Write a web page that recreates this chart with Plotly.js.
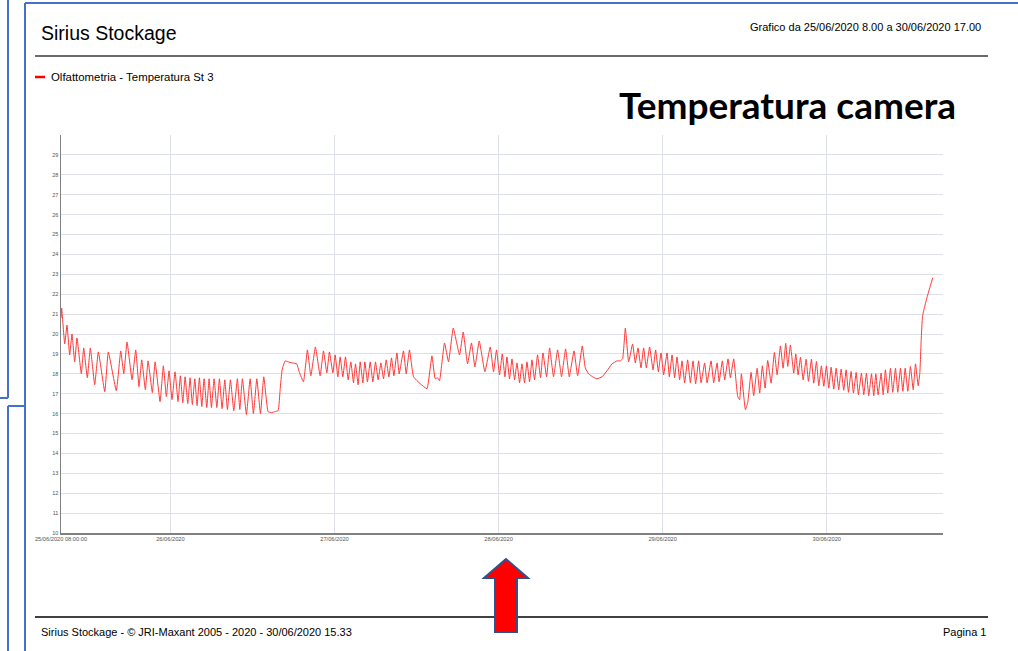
<!DOCTYPE html>
<html>
<head>
<meta charset="utf-8">
<script src="https://cdn.plot.ly/plotly-3.0.1.min.js"></script>
<style>
html,body{margin:0;padding:0;background:#fff;overflow:hidden}
#chart{width:1018px;height:651px}
</style>
</head>
<body>
<div id="chart"></div>
<script>
// ---------------- DATA ----------------
const seriesName = 'Olfattometria - Temperatura St 3';
const pageTitle = 'Sirius Stockage';
const periodText = 'Grafico da 25/06/2020 8.00 a 30/06/2020 17.00';
const bigLabel = 'Temperatura camera';
const footerLeft = 'Sirius Stockage - © JRI-Maxant 2005 - 2020 - 30/06/2020 15.33';
const footerRight = 'Pagina 1';

// hours elapsed since 25/06/2020 08:00
const hoursFromStart = [
0.00,0.10,0.54,0.88,1.27,1.61,2.00,2.34,2.97,3.32,3.85,4.29,4.93,5.46,6.40,6.92,8.09,8.74,9.18,9.66,
10.39,10.93,11.41,11.81,12.34,12.73,13.36,13.76,14.49,14.97,15.41,15.80,16.24,16.68,17.12,17.46,17.81,18.15,18.54,18.88,
19.21,19.57,19.90,20.24,20.59,20.93,21.32,21.66,22.00,22.39,22.79,23.17,23.56,23.96,24.34,24.78,25.27,25.80,26.15,26.53,
27.12,27.66,28.14,28.64,29.17,29.66,30.29,30.78,31.32,31.76,32.05,32.34,32.78,33.22,33.80,34.49,34.83,35.46,36.04,36.54,
37.21,37.90,38.39,38.88,39.26,39.76,40.10,40.49,40.83,41.22,41.61,42.00,42.39,42.78,43.07,43.46,43.76,44.15,44.44,44.82,
45.22,45.61,46.00,46.39,46.79,47.17,47.56,47.96,48.34,48.69,49.13,49.46,50.09,50.49,50.97,51.56,52.54,53.52,54.25,54.73,
55.07,55.36,56.09,56.68,57.37,58.29,58.83,59.46,60.04,60.54,61.17,62.00,62.78,63.26,63.70,64.14,64.54,64.93,65.22,65.60,
65.96,66.34,66.69,67.07,67.42,67.80,68.15,68.53,68.88,69.26,69.70,70.14,70.49,71.02,71.46,72.04,72.63,73.21,73.80,74.34,
75.03,75.56,76.24,76.68,77.17,77.75,78.39,79.13,79.86,80.59,81.32,81.80,82.14,82.54,83.02,83.60,84.00,84.39,84.83,85.21,
85.61,86.09,86.59,86.97,87.37,87.76,88.14,88.64,88.97,89.37,89.75,90.10,90.48,90.83,91.21,91.65,92.05,92.44,92.82,93.26,
93.61,94.14,94.49,95.08,95.46,95.96,96.25,96.73,97.07,97.56,97.90,98.39,98.97,99.26,99.51,100.10,100.43,100.93,101.31,101.81,
102.19,102.58,102.98,103.36,103.86,104.34,104.74,105.22,105.61,106.00,106.29,106.68,107.17,107.46,107.81,108.15,108.54,108.98,109.32,109.76,
110.09,110.49,110.83,111.22,111.56,111.95,112.29,112.64,113.02,113.37,113.75,114.10,114.48,114.83,115.17,115.56,115.90,116.30,116.63,117.07,
117.41,117.80,118.14,118.54,118.87,119.17,119.51,119.95,120.25,120.58,120.92,121.32,121.65,122.05,122.38,122.78,123.12,123.47,123.85,124.24,
124.64,124.98,125.37,125.61,125.81,126.00,126.19,126.69,127.17,127.51
];

// temperature readings (°C)
const temperature = [
20.8,21.3,19.5,20.45,18.95,20.0,18.6,19.8,18.0,19.3,17.8,19.3,17.45,19.1,17.1,19.1,17.15,19.15,18.0,19.6,
17.7,19.2,17.35,18.7,17.2,18.65,17.05,18.6,16.6,18.4,16.85,18.15,16.7,18.1,16.6,17.9,16.55,17.85,16.5,17.8,
16.45,17.75,16.4,17.8,16.35,17.75,16.3,17.75,16.3,17.75,16.3,17.75,16.25,17.7,16.2,17.7,16.15,17.75,16.2,17.75,
15.95,17.75,16.0,17.75,16.0,17.85,16.1,16.05,16.1,16.15,17.2,18.2,18.65,18.6,18.55,18.5,18.1,17.6,19.2,17.9,
19.35,17.9,19.15,18.05,19.1,18.05,18.95,17.85,18.85,17.85,18.85,17.7,18.6,17.55,18.5,17.45,18.6,17.55,18.6,17.6,
18.6,17.6,18.6,17.7,18.55,17.75,18.7,17.85,18.8,17.9,19.05,18.0,19.15,18.0,19.2,17.85,17.5,17.25,18.9,17.75,
17.8,17.65,19.55,18.6,20.3,18.95,20.1,18.5,19.55,18.35,19.65,18.1,19.35,18.1,19.2,17.95,19.0,17.85,18.85,17.75,
18.75,17.7,18.55,17.55,18.5,17.55,18.6,17.6,18.7,17.7,18.95,17.8,19.05,17.85,19.3,17.85,19.2,17.85,19.25,17.85,
19.15,17.9,19.4,18.3,18.0,17.85,17.75,17.85,18.15,18.5,18.65,18.65,18.75,20.3,18.6,19.5,18.55,19.3,18.3,19.3,
18.3,19.35,18.2,19.2,18.1,19.05,17.95,19.05,17.85,18.95,17.8,18.85,17.7,18.65,17.55,18.7,17.55,18.65,17.5,18.65,
17.55,18.55,17.55,18.65,17.55,18.55,17.6,18.65,17.7,18.75,17.8,18.75,16.87,16.7,18.0,16.2,16.53,18.07,16.9,18.28,
17.03,18.4,17.28,18.67,17.53,19.07,17.95,19.4,18.28,19.53,18.37,19.45,18.03,19.0,17.95,18.83,17.7,18.73,17.62,18.73,
17.53,18.62,17.4,18.4,17.37,18.4,17.28,18.33,17.23,18.28,17.2,18.23,17.17,18.2,17.07,18.12,17.03,18.07,16.95,18.03,
16.95,18.03,16.9,18.0,16.9,18.0,16.95,18.03,16.95,18.2,17.03,18.28,17.07,18.28,17.07,18.28,17.12,18.28,17.12,18.37,
17.2,18.5,17.4,18.03,19.7,20.87,21.2,21.87,22.45,22.83
];

const yRange = [10, 30];
const yTickValues = [10,11,12,13,14,15,16,17,18,19,20,21,22,23,24,25,26,27,28,29];
const xRange = ['2020-06-25 08:00:00', '2020-06-30 17:00:00'];
const xTickDates = ['2020-06-25 08:00:00','2020-06-26 00:00:00','2020-06-27 00:00:00','2020-06-28 00:00:00','2020-06-29 00:00:00','2020-06-30 00:00:00'];
const xTickLabels = ['25/06/2020 08:00:00','26/06/2020','27/06/2020','28/06/2020','29/06/2020','30/06/2020'];

// ---------------- BUILD ----------------
const startMs = Date.UTC(2020, 5, 25, 8, 0, 0);
const times = hoursFromStart.map(h =>
  new Date(startMs + Math.round(h * 3600000)).toISOString().slice(0, 19).replace('T', ' '));

const W = 1018, H = 651;
const M = {l: 61, r: 75, t: 135, b: 118};
const plotW = W - M.l - M.r, plotH = H - M.t - M.b;
const px = x => (x - M.l) / plotW;
const py = y => (H - M.b - y) / plotH;

const FONT = 'Liberation Sans, Arial, sans-serif';
const BLUE = '#4472c4';

function line(x0, y0, x1, y1, color, width) {
  return {type: 'line', xref: 'paper', yref: 'paper', x0: px(x0), y0: py(y0), x1: px(x1), y1: py(y1),
          line: {color: color, width: width}, layer: 'above'};
}
function text(t, x, y, anchor, size, extra) {
  return Object.assign({text: t, xref: 'paper', yref: 'paper', x: px(x), y: py(y), xanchor: anchor, yanchor: 'middle',
          showarrow: false, font: {family: FONT, size: size, color: '#000'}}, extra || {});
}

const arrowPts = [[506,559],[484,578],[495,578],[495,632],[517,632],[517,578],[528,578]];
const arrowPath = 'M ' + arrowPts.map(p => px(p[0]).toFixed(5) + ',' + py(p[1]).toFixed(5)).join(' L ') + ' Z';

const trace = {
  type: 'scatter', mode: 'lines', name: seriesName,
  x: times, y: temperature,
  line: {color: 'rgb(255,55,55)', width: 1, shape: 'spline', smoothing: 0.35},
  hoverinfo: 'skip'
};

const layout = {
  width: W, height: H,
  margin: M,
  paper_bgcolor: '#fff', plot_bgcolor: '#fff',
  showlegend: false,
  font: {family: FONT},
  xaxis: {
    type: 'date', range: xRange, tickmode: 'array', tickvals: xTickDates, ticktext: xTickLabels,
    tickfont: {family: FONT, size: 5.7, color: '#555'}, tickangle: 0,
    showgrid: true, gridcolor: '#dde0e8', gridwidth: 1,
    showline: true, linecolor: '#808080', linewidth: 1.5,
    ticks: '', zeroline: false, fixedrange: true
  },
  yaxis: {
    range: yRange, tickmode: 'array', tickvals: yTickValues,
    tickfont: {family: FONT, size: 5.5, color: '#555'},
    showgrid: true, gridcolor: '#dde0e8', gridwidth: 1,
    showline: true, linecolor: '#808080', linewidth: 1.5,
    ticks: '', zeroline: false, fixedrange: true
  },
  shapes: [
    // page frame
    line(25, 3, 1018, 3, BLUE, 2),
    line(25, 3, 25, 651, BLUE, 2),
    line(8, 0, 8, 398, BLUE, 2),
    line(0, 398, 8, 398, BLUE, 2),
    line(8, 406, 25, 406, BLUE, 2),
    line(8, 406, 8, 651, BLUE, 2),
    // header / footer rules
    line(35, 56, 988, 56, '#3a3a3a', 1.5),
    line(35, 617, 988, 617, '#000', 1.5),
    // legend swatch
    line(35, 77, 45, 77, 'rgb(255,0,0)', 2.5),
    // red arrow
    {type: 'path', xref: 'paper', yref: 'paper', path: arrowPath,
     fillcolor: '#ff0000', line: {color: '#2f528f', width: 2}, layer: 'above'}
  ],
  annotations: [
    text(pageTitle, 39, 33, 'left', 19.5),
    text(periodText, 983, 27, 'right', 11),
    text(seriesName, 49, 77, 'left', 11.4),
    text('<b>' + bigLabel + '</b>', 958, 104, 'right', 37, {font: {family: 'Lato, Calibri, sans-serif', size: 37, color: '#000'}}),
    text(footerLeft, 39, 632, 'left', 11),
    text(footerRight, 988, 632, 'right', 11)
  ]
};

Plotly.newPlot('chart', [trace], layout, {displayModeBar: false, staticPlot: true});
</script>
</body>
</html>
